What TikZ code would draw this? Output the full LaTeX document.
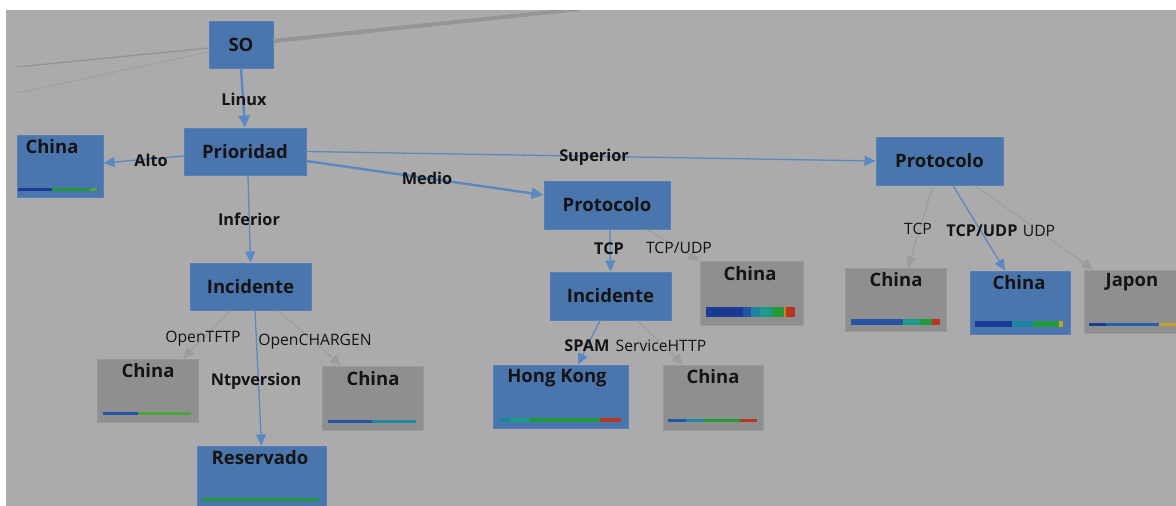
\documentclass[tikz,border=0pt]{standalone}
\usepackage{fontspec}
\setmainfont{Open Sans}
\usetikzlibrary{arrows.meta}
\definecolor{bgc}{HTML}{ABABAB}
\definecolor{nblue}{HTML}{4A76AD}
\definecolor{nblueb}{HTML}{5680B5}
\definecolor{ngray}{HTML}{8F8F8F}
\definecolor{ngrayb}{HTML}{999999}
\definecolor{eblue}{HTML}{5B87C2}
\definecolor{egray}{HTML}{9C9C9C}
\definecolor{lgray}{HTML}{959595}
\definecolor{txt}{HTML}{141414}
\definecolor{cnavy}{HTML}{1B3A95}
\definecolor{cblue}{HTML}{2554A5}
\definecolor{cblue2}{HTML}{2463AA}
\definecolor{cteal}{HTML}{1D87A0}
\definecolor{cteal2}{HTML}{1C9A88}
\definecolor{cgreen}{HTML}{22993A}
\definecolor{cgreen2}{HTML}{4AA53A}
\definecolor{cred}{HTML}{B8361F}
\definecolor{corange}{HTML}{D08020}
\definecolor{cyellow}{HTML}{C4A024}
\tikzset{
  bnode/.style={rectangle, fill=nblue, draw=nblueb, line width=1pt, inner sep=0pt, text=txt,
    font=\fontsize{18.5}{21}\selectfont\bfseries},
  gnode/.style={rectangle, fill=ngray, draw=ngrayb, line width=1pt, inner sep=0pt},
  ttl/.style={inner sep=0pt, text=txt, font=\fontsize{18.5}{21}\selectfont\bfseries},
  lb/.style={inner sep=0pt, text=txt, font=\fontsize{16.3}{19}\selectfont\bfseries},
  lr/.style={inner sep=0pt, text=txt, font=\fontsize{15.7}{18}\selectfont},
  be/.style={draw=eblue, line width=1.3pt, -{Triangle[length=11pt,width=10pt]}},
  bet/.style={draw=eblue, line width=2.4pt, -{Triangle[length=12pt,width=11pt]}},
  ge/.style={draw=egray, line width=1pt, -{Triangle[length=11pt,width=10pt]}},
  offe/.style={draw=lgray},
}
\begin{document}
\begin{tikzpicture}[x=1pt,y=-1pt]
\useasboundingbox (0,0) rectangle (1176,506);
\fill[white] (0,0) rectangle (1176,506);
\fill[bgc] (6,10) rectangle (1176,506);

% nodes
\node[bnode, minimum width=64pt, minimum height=47pt] (so) at (241,44.5) {SO};
\node[bnode, minimum width=122pt, minimum height=47pt] (pri) at (245,151.5) {Prioridad};
\node[bnode, minimum width=86pt, minimum height=62pt] (chinaL) at (60,166) {};
\node[bnode, minimum width=121pt, minimum height=47pt] (inc1) at (250.5,286.5) {Incidente};
\node[gnode, minimum width=101pt, minimum height=63pt] (chinaG1) at (147.5,390.5) {};
\node[bnode, minimum width=129pt, minimum height=62pt] (res) at (261.5,477) {};
\node[gnode, minimum width=101pt, minimum height=64pt] (chinaG2) at (372.5,398) {};
\node[bnode, minimum width=126pt, minimum height=48pt] (pro1) at (607,205) {Protocolo};
\node[bnode, minimum width=121pt, minimum height=48pt] (inc2) at (610.5,296) {Incidente};
\node[gnode, minimum width=103pt, minimum height=64pt] (chinaG3) at (751.5,293) {};
\node[bnode, minimum width=135pt, minimum height=63pt] (hk) at (560.5,396.5) {};
\node[gnode, minimum width=100pt, minimum height=65pt] (chinaG4) at (713,397.5) {};
\node[bnode, minimum width=127pt, minimum height=48pt] (pro2) at (939.5,161) {Protocolo};
\node[gnode, minimum width=101pt, minimum height=63pt] (chinaG5) at (895.5,299.5) {};
\node[bnode, minimum width=100pt, minimum height=63pt] (chinaB2) at (1020,302.5) {};
\node[gnode, minimum width=94pt, minimum height=63pt] (jap) at (1131,301.5) {};

% titles inside boxes
\node[ttl] (tL) at (52,147) {China};
\node[ttl] (tG1) at (148,371) {China};
\node[ttl] (tRes) at (260,458) {Reservado};
\node[ttl] (tG2) at (373,379) {China};
\node[ttl] (tHK) at (557,378) {Hong Kong};
\node[ttl] (tG4) at (713,377) {China};
\node[ttl] (tG3) at (750,274) {China};
\node[ttl] (tG5) at (896,280) {China};
\node[ttl] (tB2) at (1019,283) {China};
\node[ttl] (tJ) at (1132,282) {Japon};

% bars
\fill[cnavy] (18,188) rectangle (52,191);
\fill[cgreen] (52,188) rectangle (90,191);
\fill[cgreen2] (90,188) rectangle (97,191);

\fill[cblue] (103,412) rectangle (138,415);
\fill[cgreen2] (138,412) rectangle (191,415);

\fill[cgreen] (202,498) rectangle (319,501);

\fill[cblue] (328,420) rectangle (372,423);
\fill[cteal] (372,420) rectangle (416,423);

\fill[cnavy] (706,307) rectangle (743,317);
\fill[cblue] (743,307) rectangle (751,317);
\fill[cteal] (751,307) rectangle (760,317);
\fill[cteal2] (760,307) rectangle (772,317);
\fill[cgreen] (772,307) rectangle (784,317);
\fill[corange] (784,307) rectangle (786,317);
\fill[cred] (786,307) rectangle (795,317);

\fill[cteal] (499,418) rectangle (510,422);
\fill[cteal2] (510,418) rectangle (530,422);
\fill[cgreen] (530,418) rectangle (600,422);
\fill[cred] (600,418) rectangle (621,422);

\fill[cblue] (668,419) rectangle (686,422);
\fill[cteal] (686,419) rectangle (704,422);
\fill[cgreen] (704,419) rectangle (740,422);
\fill[cred] (740,419) rectangle (757,422);

\fill[cblue] (851,319) rectangle (903,325);
\fill[cteal2] (903,319) rectangle (920,325);
\fill[cgreen] (920,319) rectangle (932,325);
\fill[cred] (932,319) rectangle (940,325);

\fill[cnavy] (975,321) rectangle (1012,327);
\fill[cteal] (1012,321) rectangle (1033,327);
\fill[cgreen] (1033,321) rectangle (1059,327);
\fill[cyellow] (1059,321) rectangle (1063,327);

\fill[cnavy] (1089,323) rectangle (1106,326);
\fill[cblue2] (1106,323) rectangle (1159,326);
\fill[cyellow] (1159,323) rectangle (1176,326);

% connectors to nodes outside the view
\coordinate (offA) at (17,67);
\coordinate (offB) at (17,93);
\coordinate (offC) at (580,9);
\begin{scope}
\clip (6,10) rectangle (1176,506);
\draw[offe, line width=1.3pt] ([yshift=-3.5pt]so.west) -- (offA);
\draw[offe, line width=0.8pt, draw opacity=0.6] ([yshift=-7.5pt]so.west) -- (offB);
\draw[offe, line width=4pt] ([yshift=3.5pt]so.east) -- (offC);
\end{scope}

% edges
\draw[bet] (so.south) -- (pri.north);
\draw[be] ([yshift=-4.5pt]pri.west) -- ([yshift=3pt]chinaL.east);
\draw[bet] ([yshift=-9.5pt]pri.east) -- ([yshift=10pt]pro1.west);
\draw[be] (pri.east) -- (pro2.west);
\draw[be] ([xshift=3pt]pri.south) -- (inc1.north);
\draw[ge] ([xshift=-20pt]inc1.south) -- ([xshift=35.5pt]chinaG1.north);
\draw[be] ([xshift=4.5pt]inc1.south) -- (res.north);
\draw[ge] ([xshift=27.5pt]inc1.south) -- ([xshift=-31.5pt]chinaG2.north);
\draw[be] ([xshift=3pt]pro1.south) -- (inc2.north);
\draw[ge] ([xshift=40pt]pro1.south) -- (chinaG3.north west);
\draw[be] ([xshift=-10.5pt]inc2.south) -- ([xshift=17.5pt]hk.north);
\draw[ge] ([xshift=26.5pt]inc2.south) -- ([xshift=-30pt]chinaG4.north);
\draw[ge] ([xshift=-6.5pt]pro2.south) -- ([xshift=12.5pt]chinaG5.north);
\draw[be] ([xshift=13.5pt]pro2.south) -- ([xshift=-15pt]chinaB2.north);
\draw[ge] ([xshift=35.5pt]pro2.south) -- ([xshift=-38pt]jap.north);

% edge labels
\node[lb] (lLinux) at (244,99) {Linux};
\node[lb] (lAlto) at (151,160) {Alto};
\node[lb] (lMedio) at (427,178) {Medio};
\node[lb] (lSup) at (594,157) {Superior};
\node[lb] (lInf) at (249,219) {Inferior};
\node[lr] (lTFTP) at (203,339) {OpenTFTP};
\node[lb] (lNtp) at (256,381) {Ntpversion};
\node[lr] (lCHG) at (315,342) {OpenCHARGEN};
\node[lb] (lTCP1) at (609,249) {TCP};
\node[lr] (lTU1) at (679,248) {TCP/UDP};
\node[lb] (lSPAM) at (587,346) {SPAM};
\node[lr] (lHTTP) at (661,346) {ServiceHTTP};
\node[lr] (lTCP2) at (918,229) {TCP};
\node[lb] (lTU2) at (982,231) {TCP/UDP};
\node[lr] (lUDP) at (1039,231) {UDP};
\end{tikzpicture}
\end{document}
